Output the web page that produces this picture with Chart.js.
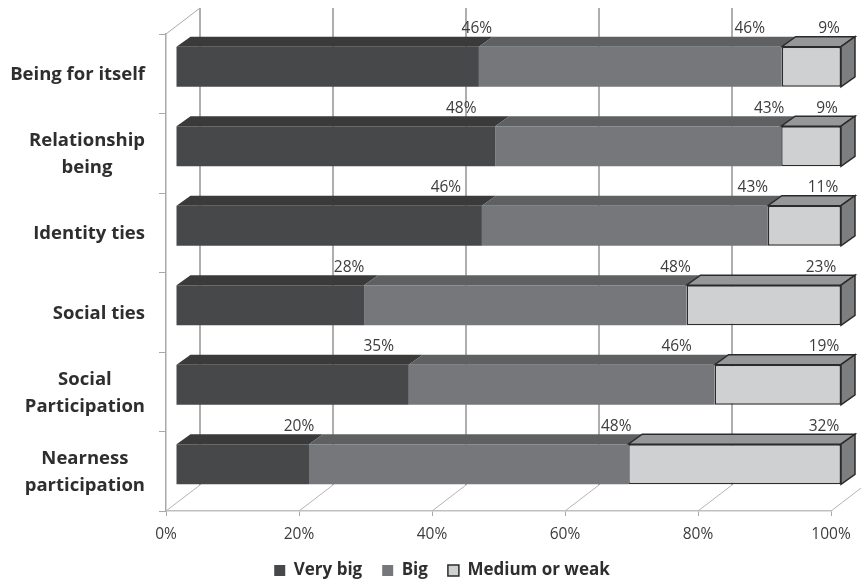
<!DOCTYPE html>
<html lang="en">
<head>
<meta charset="UTF-8">
<title>Very big / Big / Medium or weak</title>
<script src="https://cdn.jsdelivr.net/npm/chart.js"></script>
<style>
    html, body { margin: 0; padding: 0; background: #fff; }
    #wrap { width: 861px; height: 580px; }
</style>
</head>
<body>
<div id="wrap"><canvas id="chart" width="861" height="580"></canvas></div>
<script>
    const categories = ['Being for itself', 'Relationship\nbeing', 'Identity ties', 'Social ties', 'Social\nParticipation', 'Nearness\nparticipation'];
    const seriesNames = ['Very big', 'Big', 'Medium or weak'];
    const veryBig = [46, 48, 46, 28, 35, 20];
    const big = [46, 43, 43, 48, 46, 48];
    const mediumOrWeak = [9, 9, 11, 23, 19, 32];
    const xTicks = [0, 20, 40, 60, 80, 100];

    // the labels were hand placed in the original, so each one has its own nudge from the segment end
    const labelNudge = [
        [-2, -34, -36, -15, -30, -10],
        [-32, -12, -15, -11, -38, -12],
        [-12, -14, -18, -20, -17, -17]
    ];

    const series = [veryBig, big, mediumOrWeak];
    // rows don't always add up to 100, the bars are stretched to fill the axis
    const totals = categories.map((c, i) => veryBig[i] + big[i] + mediumOrWeak[i]);
    const share = arr => arr.map((v, i) => v / totals[i] * 100);

    const frontColors = ['#47484a', '#76777a', '#cfd0d2'];
    const topColors = ['#3a3a3b', '#5f6062', '#969799'];
    const sideColor = '#7d7e80';
    const edgeColor = '#2b2b2b';
    const textColor = '#3c3c3c';
    const FONT = '"Open Sans", sans-serif';

    const wallDx = 34, wallDy = -26;   // depth of the back wall
    const barDx = 10, barDy = -7;      // bars sit a bit behind the front plane
    const depthDx = 14, depthDy = -10; // depth of the bars themselves

    function line(ctx, x1, y1, x2, y2, color, width) {
        ctx.strokeStyle = color;
        ctx.lineWidth = width;
        ctx.beginPath();
        ctx.moveTo(x1, y1);
        ctx.lineTo(x2, y2);
        ctx.stroke();
    }

    function face(ctx, x, y, w, h, color, stroke) {
        // parallelogram going back from the edge x,y -> x+w,y+h
        ctx.fillStyle = color;
        ctx.beginPath();
        ctx.moveTo(x, y);
        ctx.lineTo(x + w, y + h);
        ctx.lineTo(x + w + depthDx, y + h + depthDy);
        ctx.lineTo(x + depthDx, y + depthDy);
        ctx.closePath();
        ctx.fill();
        if (stroke) {
            ctx.strokeStyle = edgeColor;
            ctx.lineWidth = 1.5;
            ctx.stroke();
        }
    }

    const box3d = {
        id: 'box3d',
        beforeDatasetsDraw(chart) {
            const ctx = chart.ctx;
            const x = chart.scales.x;
            const area = chart.chartArea;

            // back wall, floor and left wall
            xTicks.forEach(v => {
                const px = x.getPixelForValue(v);
                line(ctx, px + wallDx, area.top + wallDy, px + wallDx, area.bottom + wallDy, '#939395', 1.5);
                line(ctx, px, area.bottom, px + wallDx, area.bottom + wallDy, '#b4b4b6', 1);
            });
            line(ctx, area.left, area.top, area.left + wallDx, area.top + wallDy, '#a9a9ab', 1);

            ctx.save();
            ctx.translate(barDx, barDy);
            series.forEach((s, d) => {
                chart.getDatasetMeta(d).data.forEach(bar => {
                    const top = bar.y - bar.height / 2;
                    face(ctx, bar.base, top, bar.x - bar.base, 0, topColors[d], d === 2);
                    if (d === 2) face(ctx, bar.x, top, 0, bar.height, sideColor, true);
                });
            });
            // left on the translated context so the bars land on the same plane
        },
        afterDatasetsDraw(chart) {
            const ctx = chart.ctx;
            ctx.restore();

            ctx.fillStyle = textColor;
            ctx.font = '15.5px ' + FONT;
            ctx.textAlign = 'center';
            ctx.textBaseline = 'middle';
            series.forEach((s, d) => {
                chart.getDatasetMeta(d).data.forEach((bar, i) => {
                    const top = bar.y - bar.height / 2 + barDy;
                    ctx.fillText(s[i] + '%', bar.x + barDx + labelNudge[d][i], top - 18);
                });
            });

            // category labels: block is right aligned, its lines centred on each other
            const yScale = chart.scales.y;
            ctx.fillStyle = '#2e2e2e';
            ctx.font = 'bold 18.5px ' + FONT;
            categories.forEach((c, i) => {
                const lines = c.split('\n');
                const widest = Math.max(...lines.map(l => ctx.measureText(l).width));
                const cy = yScale.getPixelForValue(i) + 1;
                lines.forEach((l, n) => {
                    ctx.fillText(l, 145 - widest / 2, cy + (n - (lines.length - 1) / 2) * 27);
                });
            });
        }
    };

    new Chart(document.getElementById('chart'), {
        type: 'bar',
        data: {
            labels: categories,
            datasets: series.map((s, d) => ({
                label: seriesNames[d],
                data: share(s),
                backgroundColor: frontColors[d],
                borderColor: d === 2 ? edgeColor : 'transparent',
                borderWidth: d === 2 ? 1.5 : 0,
                borderSkipped: false,
                clip: false,
                barPercentage: 0.504,
                categoryPercentage: 1
            }))
        },
        options: {
            indexAxis: 'y',
            responsive: false,
            animation: false,
            layout: { padding: { left: 53, right: 30, top: 34, bottom: -9 } },
            scales: {
                x: {
                    stacked: true,
                    min: 0,
                    max: 100,
                    afterFit(s) { s.height = 31; s.paddingLeft = 0; s.paddingRight = 0; },
                    grid: { drawOnChartArea: false, drawTicks: true, tickLength: 5, color: '#a9a9ab' },
                    border: { color: '#c0c0c2', width: 1.5 },
                    ticks: {
                        stepSize: 20,
                        maxRotation: 0,
                        padding: 9,
                        color: textColor,
                        font: { family: FONT, size: 15.5 },
                        callback: v => v + '%'
                    }
                },
                y: {
                    stacked: true,
                    afterFit(s) { s.width = 113; },
                    grid: { drawOnChartArea: false, drawTicks: true, tickLength: 7, color: '#a9a9ab' },
                    border: { color: '#a9a9ab', width: 1.5 },
                    ticks: { display: false }
                }
            },
            plugins: {
                tooltip: { enabled: false },
                legend: {
                    position: 'bottom',
                    labels: {
                        boxWidth: 11,
                        boxHeight: 11,
                        padding: 20,
                        color: '#2e2e2e',
                        font: { family: FONT, size: 17, weight: 'bold' }
                    }
                }
            }
        },
        plugins: [box3d]
    });
</script>
</body>
</html>
